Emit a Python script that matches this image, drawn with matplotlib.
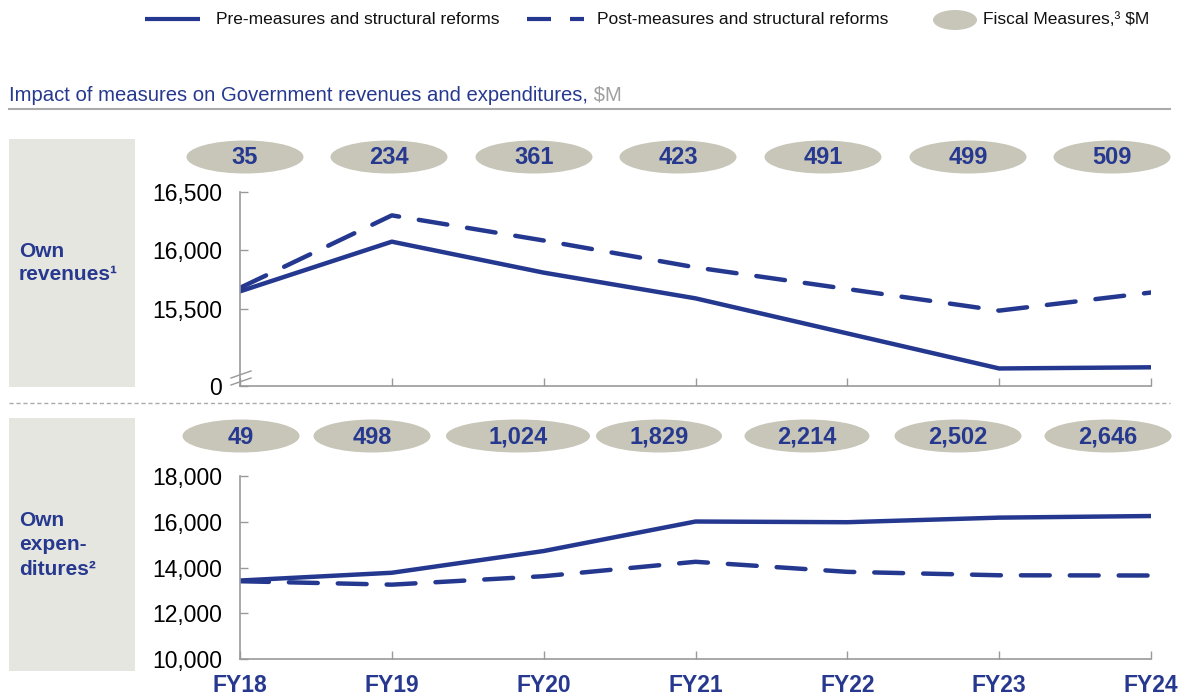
import matplotlib
matplotlib.use('Agg')
import matplotlib.pyplot as plt
from matplotlib.patches import Ellipse, Rectangle

plt.rcParams['font.family'] = ['Liberation Sans', 'DejaVu Sans']

# 数据
years = ['FY18', 'FY19', 'FY20', 'FY21', 'FY22', 'FY23', 'FY24']
rev_pre = [15650, 16075, 15810, 15590, 15290, 14990, 15000]
rev_post = [15680, 16300, 16085, 15855, 15670, 15485, 15640]
exp_pre = [13430, 13770, 14720, 16010, 15980, 16180, 16250]
exp_post = [13400, 13250, 13620, 14250, 13810, 13660, 13650]
rev_measures = ['35', '234', '361', '423', '491', '499', '509']
exp_measures = ['49', '498', '1,024', '1,829', '2,214', '2,502', '2,646']

BLUE = '#27398f'
LINE = '#25388f'
OVAL = '#c8c6b9'
BOX = '#e6e6e1'
GREY = '#999999'

W, H = 1188, 697
fig = plt.figure(figsize=(W / 100, H / 100), dpi=100)

# 背景层（像素坐标）
bg = fig.add_axes([0, 0, 1, 1], zorder=0)
bg.set_xlim(0, W)
bg.set_ylim(H, 0)
bg.axis('off')

# 图例
bg.plot([145, 200], [19, 19], color=LINE, lw=3, solid_capstyle='butt')
bg.text(216, 19, 'Pre-measures and structural reforms', fontsize=12.5, va='center', color='#111111')
bg.plot([527, 551], [19, 19], color=LINE, lw=3, solid_capstyle='butt')
bg.plot([570, 584], [19, 19], color=LINE, lw=3, solid_capstyle='butt')
bg.text(597, 19, 'Post-measures and structural reforms', fontsize=12.5, va='center', color='#111111')
bg.add_patch(Ellipse((955, 20), 44, 20, color=OVAL, lw=0))
bg.text(983, 19, 'Fiscal Measures,³ $M', fontsize=12.5, va='center', color='#111111')

# 标题
t = bg.text(9, 101, 'Impact of measures on Government revenues and expenditures,', fontsize=14.6,
            va='baseline', color=BLUE)
bg.annotate(' $M', xy=(1, 0), xycoords=t, va='bottom', fontsize=14.6, color='#a0a0a0')
bg.plot([9, 1170], [109, 109], color='#aaaaaa', lw=1.5)

# 左侧灰色标签框
bg.add_patch(Rectangle((9, 139), 126, 248, color=BOX, lw=0))
bg.add_patch(Rectangle((9, 418), 126, 253, color=BOX, lw=0))
bg.text(19, 263, 'Own\nrevenues¹', fontsize=15, fontweight='bold', color=BLUE,
        va='center', linespacing=1.3)
bg.text(19, 545, 'Own\nexpen-\nditures²', fontsize=15, fontweight='bold', color=BLUE,
        va='center', linespacing=1.35)

# 分隔虚线
bg.plot([9, 1170], [403, 403], color='#aaaaaa', lw=1, ls=(0, (3, 2)))

# 椭圆：财政措施
top_x = [245, 389, 534, 678, 823, 968, 1112]
for x, v in zip(top_x, rev_measures):
    bg.add_patch(Ellipse((x, 157), 117, 33, color=OVAL, lw=0))
    bg.text(x, 158, v, fontsize=17, fontweight='bold', color=BLUE, ha='center', va='center')

bot_x = [241, 372, 518, 659, 807, 958, 1108]
bot_w = [117, 117, 144, 126, 125, 127, 127]
for x, w, v in zip(bot_x, bot_w, exp_measures):
    bg.add_patch(Ellipse((x, 436), w, 33, color=OVAL, lw=0))
    bg.text(x, 437, v, fontsize=17, fontweight='bold', color=BLUE, ha='center', va='center')

# 断轴标记
bg.plot([231, 251], [378, 371], color=GREY, lw=1)
bg.plot([231, 251], [385, 378], color=GREY, lw=1)


def make_axes(bottom_px, top_px):
    ax = fig.add_axes([240 / W, 1 - bottom_px / H, (1151 - 240) / W, (bottom_px - top_px) / H], zorder=2)
    ax.patch.set_alpha(0)
    for s in ['top', 'right']:
        ax.spines[s].set_visible(False)
    for s in ['left', 'bottom']:
        ax.spines[s].set_color(GREY)
        ax.spines[s].set_linewidth(1.2)
    ax.tick_params(direction='in', length=6, color=GREY, width=1, labelsize=16.5, pad=13)
    ax.tick_params(axis='x', pad=11)
    ax.set_xlim(0, len(years) - 1)
    ax.set_xticks(range(len(years)))
    return ax


x = list(range(len(years)))

# 上图：收入
ax1 = make_axes(386, 192)
ax1.plot(x, rev_pre, color=LINE, lw=3.2)
ax1.plot(x, rev_post, color=LINE, lw=3.2, ls=(0, (6.5, 4.5)), dash_capstyle='round')
ax1.set_ylim(14840, 16500)
ax1.set_yticks([14840, 15500, 16000, 16500])
ax1.set_yticklabels(['0', '15,500', '16,000', '16,500'])
ax1.set_xticklabels([])

# 下图：支出
ax2 = make_axes(659, 476)
ax2.plot(x, exp_pre, color=LINE, lw=3.2)
ax2.plot(x, exp_post, color=LINE, lw=3.2, ls=(0, (6.5, 4.5)), dash_capstyle='round')
ax2.set_ylim(10000, 18000)
ax2.set_yticks([10000, 12000, 14000, 16000, 18000])
ax2.set_yticklabels(['10,000', '12,000', '14,000', '16,000', '18,000'])
ax2.set_xticklabels(years, fontweight='bold', color=BLUE)

plt.savefig('out.png', dpi=100)
